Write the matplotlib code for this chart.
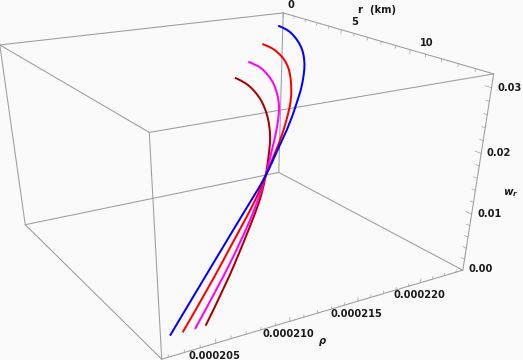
import numpy as np
import matplotlib
matplotlib.use("Agg")
import matplotlib.pyplot as plt
from matplotlib.path import Path
from matplotlib.patches import PathPatch

# ---- data (r in km, rho and w_r) ----
r_darkred = [0.00,0.62,1.42,2.20,3.12,3.79,4.52,5.21,5.90,6.49,7.02,7.73,8.43,9.03,9.67,11.10,12.50,13.59]
rho_darkred = [219.35,219.34,219.27,219.06,218.74,218.42,218.01,217.55,217.01,216.48,215.92,215.14,214.32,213.55,212.65,210.26,207.74,205.50]
w_darkred = [21.09,21.05,20.87,20.54,19.99,19.46,18.76,18.00,17.13,16.28,15.47,14.27,12.98,11.79,10.43,7.04,3.26,0.00]

r_magenta = [0.00,0.65,1.34,2.15,2.86,3.66,4.54,5.25,6.02,6.77,7.88,8.87,9.97,11.26,12.53,13.61]
rho_magenta = [220.53,220.54,220.50,220.22,219.96,219.54,218.95,218.36,217.55,216.67,215.22,213.91,212.24,209.88,207.26,204.78]
w_magenta = [23.77,23.71,23.53,23.17,22.72,22.05,21.13,20.23,19.11,17.89,15.80,13.68,11.01,7.49,3.63,0.00]

r_red = [0.00,0.62,1.27,2.00,2.67,3.28,3.89,4.79,5.66,6.51,7.65,8.49,9.27,10.23,11.24,12.57,13.60]
rho_red = [221.77,221.79,221.71,221.51,221.26,220.93,220.52,219.77,218.93,217.89,216.27,214.84,213.53,211.75,209.54,206.55,203.98]
w_red = [26.73,26.68,26.50,26.15,25.70,25.17,24.54,23.42,22.09,20.60,18.27,16.32,14.31,11.60,8.49,3.89,0.00]

r_blue = [0.00,0.58,1.28,2.03,2.76,3.41,3.97,4.59,5.13,5.93,6.51,7.65,8.62,9.61,10.45,11.35,12.56,13.58]
rho_blue = [223.18,223.14,223.00,222.71,222.38,222.01,221.59,221.04,220.46,219.49,218.65,216.90,215.08,213.21,211.19,208.97,205.88,203.18]
w_blue = [29.76,29.70,29.49,29.09,28.53,27.88,27.21,26.37,25.51,24.08,22.92,20.31,17.77,14.86,12.16,8.98,4.31,0.00]

series = [
    (r_darkred, rho_darkred, w_darkred, '#AA0000'),
    (r_magenta, rho_magenta, w_magenta, '#FF00FF'),
    (r_red, rho_red, w_red, '#FF0000'),
    (r_blue, rho_blue, w_blue, '#0000FF'),
]

r_major = [0, 5, 10]
r_minor = [1, 2, 3, 4, 6, 7, 8, 9, 11, 12, 13, 14]
rho_major = [205, 210, 215, 220]
rho_minor = [202, 203, 204, 206, 207, 208, 209, 211, 212, 213, 214, 216, 217, 218, 219, 221, 222, 223]
w_major = [0, 10, 20, 30]
w_minor = [2, 4, 6, 8, 12, 14, 16, 18, 22, 24, 26, 28]
r_labels = ['0', '5', '10']
rho_labels = ['0.000205', '0.000210', '0.000215', '0.000220']
w_labels = ['0.00', '0.01', '0.02', '0.03']

# ---- box and camera ----
R_LIM = (0.0, 15.0)
RHO_LIM = (201.6, 223.6)
W_LIM = (0.0, 32.0)
corner_uvw = [(0,0,0),(1,0,0),(0,1,0),(1,1,0),(0,0,1),(1,0,1),(0,1,1),(1,1,1)]
corner_px = [(25,225),(162,359),(279,172),(462.5,270.5),(0,45),(149,132),(283,13),(494,74)]
A = []
for (u,v,t),(x,y) in zip(corner_uvw, corner_px):
    A.append([u,v,t,1,0,0,0,0,-x*u,-x*v,-x*t,-x])
    A.append([0,0,0,0,u,v,t,1,-y*u,-y*v,-y*t,-y])
P = np.linalg.svd(np.array(A, float))[2][-1].reshape(3, 4)

def project(r, rho, w):
    r, rho, w = np.broadcast_arrays(np.asarray(r, float), np.asarray(rho, float), np.asarray(w, float))
    u = (r - R_LIM[0]) / (R_LIM[1] - R_LIM[0])
    v = (rho - RHO_LIM[0]) / (RHO_LIM[1] - RHO_LIM[0])
    t = (w - W_LIM[0]) / (W_LIM[1] - W_LIM[0])
    h = P @ np.vstack([u.ravel(), v.ravel(), t.ravel(), np.ones(u.size)])
    return h[0] / h[2], h[1] / h[2]

BG = '#FAFAFA'
EDGE = '#9C9C9C'
TICK = '#A0A0A0'
TXT = '#1A1A1A'
plt.rcParams['mathtext.fontset'] = 'dejavusans'

fig = plt.figure(figsize=(5.23, 3.6), dpi=100, facecolor=BG)
ax = fig.add_axes([0, 0, 1, 1])
ax.set_xlim(0, 523)
ax.set_ylim(360, 0)
ax.axis('off')

for a in range(8):
    for b in range(a + 1, 8):
        if sum(p != q for p, q in zip(corner_uvw[a], corner_uvw[b])) == 1:
            ca, cb = corner_uvw[a], corner_uvw[b]
            x, y = project([R_LIM[ca[0]], R_LIM[cb[0]]], [RHO_LIM[ca[1]], RHO_LIM[cb[1]]], [W_LIM[ca[2]], W_LIM[cb[2]]])
            ax.plot(x, y, color=EDGE, lw=0.75, solid_capstyle='round', zorder=1)

def tick(p0, p1):
    x, y = project([p0[0], p1[0]], [p0[1], p1[1]], [p0[2], p1[2]])
    ax.plot(x, y, color=TICK, lw=0.5, zorder=1)

RM, RHM, WM = R_LIM[1], RHO_LIM[1], W_LIM[1]
for vals, L in ((r_major, 0.7), (r_minor, 0.45)):
    for q in vals:
        tick((q, RHM, WM), (q, RHM, WM - L))
for vals, L in ((rho_major, 0.7), (rho_minor, 0.45)):
    for q in vals:
        tick((RM, q, 0), (RM, q, L))
for vals, L in ((w_major, 0.35), (w_minor, 0.2)):
    for q in vals:
        tick((RM, RHM, q), (RM - L, RHM, q))

for r, rho, w, c in series:
    x, y = project(r, rho, w)
    pts = np.column_stack([x, y])
    verts = [pts[0]]
    codes = [Path.MOVETO]
    for i in range(1, len(pts) - 1):
        end = pts[i + 1] if i == len(pts) - 2 else (pts[i] + pts[i + 1]) / 2
        verts += [pts[i], end]
        codes += [Path.CURVE3, Path.CURVE3]
    ax.add_patch(PathPatch(Path(verts, codes), fill=False, edgecolor=c, lw=1.45, capstyle='butt', joinstyle='round', zorder=3))

fp = dict(family='DejaVu Sans', fontweight='bold', fontsize=7.1, color=TXT, ha='center', va='center', zorder=4)
for q, s, off in zip(r_major, r_labels, [(8, -8), (13, -8), (17, -7)]):
    x, y = project(q, RHM, WM)
    ax.text(x[0] + off[0], y[0] + off[1], s, **fp)
for q, s in zip(rho_major, rho_labels):
    x, y = project(RM, q, 0)
    ax.text(x[0] - 1, y[0] + 12.5, s, **fp)
for q, s in zip(w_major, w_labels):
    x, y = project(RM, RHM, q)
    ax.text(x[0] + 18, y[0] - 1 if q == 0 else y[0], s, **fp)

ax.text(377, 10, 'r  (km)', **fp)
ax.text(322.7, 341.5, '\u03c1', fontstyle='italic', **fp)
ax.text(511, 193, r'$\mathbfit{w}_{\mathbfit{r}}$', family='DejaVu Sans', fontsize=7.5, color=TXT,
        ha='center', va='center', zorder=4)

fig.savefig('out.png', dpi=100, facecolor=BG)
